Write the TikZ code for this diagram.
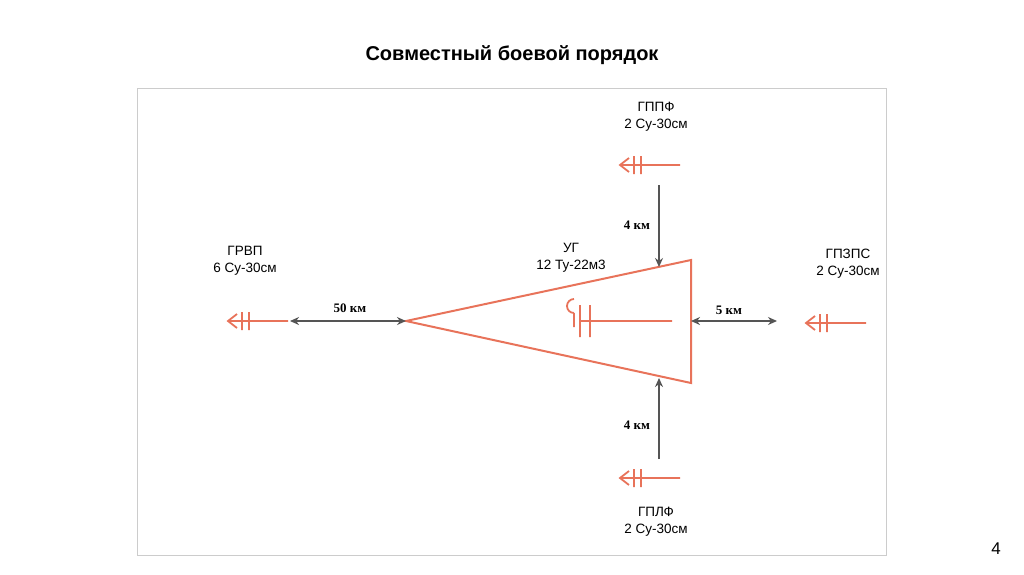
\documentclass[tikz,border=0pt]{standalone}
\usepackage{fontspec}
\setmainfont{Liberation Sans}
\newfontfamily\serifb{Liberation Serif}
\usetikzlibrary{arrows.meta}
\definecolor{org}{HTML}{E8735A}
\definecolor{gr}{HTML}{555555}
\tikzset{
  plane/.pic={\draw[org,line width=1.8pt] (0,0)--(60,0) (9,-7)--(0,0)--(9,7) (14,-9)--(14,9) (21,-9)--(21,9);},
  dist/.style={gr,line width=1.6pt,{Stealth[length=9pt,width=8pt]}-{Stealth[length=9pt,width=8pt]}},
  dlab/.style={font=\serifb\bfseries\fontsize{13}{15}\selectfont},
  lab/.style={font=\fontsize{13.5}{17}\selectfont,align=center},
  x=1pt,y=-1pt}
\begin{document}
\begin{tikzpicture}
\useasboundingbox (0,0) rectangle (1024,574);
\node[font=\bfseries\fontsize{20}{24}\selectfont] (title) at (512,55) {Совместный боевой порядок};
\draw[gray!40] (137,88) rectangle (886,555);
\node[font=\fontsize{17}{20}\selectfont] (pg) at (996,549) {4};
\draw[org,line width=2pt] (406,321) coordinate (apex) -- (691,260) coordinate (tr) -- (691,383) coordinate (br) -- cycle;
\coordinate (rmid) at (691,321);
\draw[org,line width=1.8pt] (580,321)--(672,321) (580,305)--(580,337) (590,305)--(590,337)
  (574,313) arc[start angle=90,end angle=270,radius=7] (574,313)--(574,327);
\pic at (228,321) {plane};
\pic at (620,165) {plane};
\pic at (620,478) {plane};
\pic at (806,323) {plane};
\coordinate (l50) at (290,321);
\draw[dist] (l50) -- (apex);
\node[dlab] (d50) at (350,308) {50 км};
\coordinate (r5) at (777,321);
\draw[dist] (rmid) -- (r5);
\node[dlab] (d5) at (729,310) {5 км};
\coordinate (t4a) at (659,185); \coordinate (t4b) at (659,267);
\draw[gr,line width=1.6pt,-{Stealth[length=9pt,width=8pt]}] (t4a) -- (t4b);
\node[dlab] (d4t) at (637,225) {4 км};
\coordinate (b4a) at (659,459); \coordinate (b4b) at (659,378);
\draw[gr,line width=1.6pt,-{Stealth[length=9pt,width=8pt]}] (b4a) -- (b4b);
\node[dlab] (d4b) at (637,425) {4 км};
\node[lab] (a) at (656,117) {ГППФ\\2 Су-30см};
\node[lab] (b) at (245,261) {ГРВП\\6 Су-30см};
\node[lab] (c) at (571,258) {УГ\\12 Ту-22м3};
\node[lab] (d) at (848,264) {ГПЗПС\\2 Су-30см};
\node[lab] (e) at (656,522) {ГПЛФ\\2 Су-30см};
\end{tikzpicture}
\end{document}
